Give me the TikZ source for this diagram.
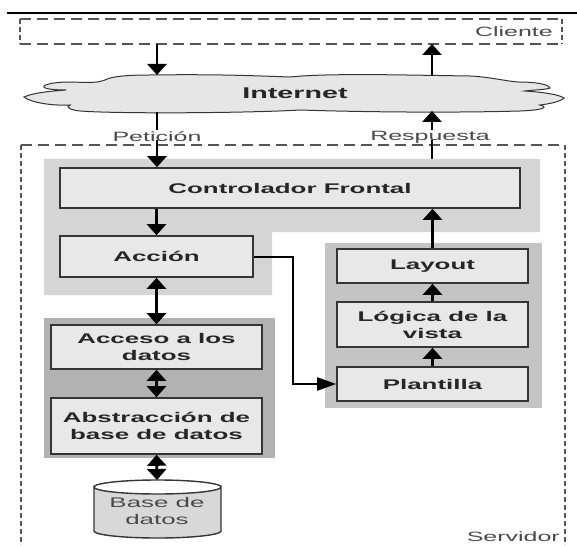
\documentclass[tikz,border=0pt]{standalone}
\usepackage{fontspec}
\setmainfont{Liberation Sans}[FakeStretch=1.85]
\usetikzlibrary{arrows.meta,calc}
\definecolor{boxfill}{HTML}{E8E8E8}
\definecolor{boxline}{HTML}{353535}
\definecolor{txt}{HTML}{262626}
\definecolor{lbl}{HTML}{4A4A4A}
\definecolor{bgtop}{HTML}{D5D5D5}
\definecolor{bgleft}{HTML}{B2B2B2}
\definecolor{bgright}{HTML}{C4C4C4}
\definecolor{cloudfill}{HTML}{E6E6E6}
\definecolor{dbfill}{HTML}{D8D8D8}
\definecolor{dashc}{HTML}{555555}
\newcommand\boxfont{\fontsize{14}{17}\selectfont}
\newcommand\lblfont{\fontsize{13.5}{16}\selectfont}
\tikzset{
  box/.style={draw=boxline, fill=boxfill, line width=1.6pt, inner sep=0pt,
    font=\boxfont\bfseries, text=txt, align=center},
  lab/.style={font=\lblfont, text=lbl, inner sep=0pt},
  conn/.style={line width=2.6pt, black},
  varr/.style={conn, -{Triangle[width=19pt,length=11pt]}},
  vdarr/.style={conn, {Triangle[width=19pt,length=11pt]}-{Triangle[width=19pt,length=11pt]}},
  harr/.style={conn, -{Triangle[width=13pt,length=19pt]}},
  hdash/.style={draw=dashc, line width=1.3pt, dash pattern=on 11pt off 6pt},
  vdash/.style={draw=dashc, line width=1.8pt, dash pattern=on 5pt off 3pt},
}
\begin{document}
\begin{tikzpicture}[x=1pt,y=-1pt]
\fill[white] (0,0) rectangle (577,545);
\useasboundingbox (0,0) rectangle (577,545);

% top rule
\draw[line width=1.6pt] (7,13) -- (577,13);

% Cliente box
\draw[hdash] (20,19) -- (562,19);
\draw[hdash] (20,44) -- (562,44);
\draw[vdash] (20,19) -- (20,44);
\draw[vdash] (562,19) -- (562,44);
\node[lab, anchor=east] (cliente) at (553,32) {Cliente};
\coordinate (clbot1) at (157,44);
\coordinate (clbot2) at (432,44);

% Servidor box
\draw[hdash] (21,145) -- (565,145);
\draw[vdash] (21,145) -- (21,545);
\draw[vdash] (565,145) -- (565,545);
\node[lab, anchor=east] (servidor) at (560,537) {Servidor};

% Cloud
\draw[draw=boxline, fill=cloudfill, line width=1pt]
 (24,97) .. controls (35,92) and (55,91) .. (66,90)
 .. controls (55,90) and (42,89) .. (44,86)
 .. controls (48,83) and (60,82) .. (70,82)
 .. controls (80,82) and (95,84) .. (105,80)
 .. controls (112,76) and (130,75) .. (150,75)
 .. controls (220,74) and (260,76) .. (290,77)
 .. controls (330,73) and (400,75) .. (470,76)
 .. controls (490,77) and (505,81) .. (518,82)
 .. controls (535,82) and (548,84) .. (550,88)
 .. controls (545,90) and (530,90) .. (525,91)
 .. controls (540,92) and (558,94) .. (564,98)
 .. controls (560,102) and (548,104) .. (540,105)
 .. controls (548,107) and (545,110) .. (520,111)
 .. controls (450,113) and (360,112) .. (300,110)
 .. controls (250,113) and (120,114) .. (80,111)
 .. controls (70,110) and (65,107) .. (70,105)
 .. controls (50,106) and (30,102) .. (24,97) -- cycle;
\node[font=\fontsize{15.5}{18}\selectfont\bfseries, text=txt] (inet) at (295,93) {Internet};
\coordinate (cltop1) at (157,75);
\coordinate (cltop2) at (432,76);
\coordinate (clb1) at (157,112);
\coordinate (clb2) at (432,111);

% labels
\node[lab] (petic) at (157,137) {Petición};
\node[lab] (resp) at (430,137) {Respuesta};
\coordinate (petbot) at (157,140);
\coordinate (respbot) at (432,140);

% gray backgrounds
\fill[bgtop] (44,159) -- (540,159) -- (540,232) -- (272,232) -- (272,295) -- (44,295) -- cycle;
\fill[bgleft] (44,318) rectangle (275,458);
\fill[bgright] (325,243) rectangle (542,408);
\coordinate (bgtopc) at (432,159);

% boxes
\node[box, minimum width=460pt, minimum height=40pt] (ctrl) at (290,188) {Controlador Frontal};
\node[box, minimum width=193pt, minimum height=41pt] (accion) at (156.5,256.5) {Acción};
\node[box, minimum width=191pt, minimum height=34pt] (layout) at (432.5,266) {Layout};
\node[box, minimum width=191pt, minimum height=45pt] (logica) at (432.5,324.5) {Lógica de la\\vista};
\node[box, minimum width=191pt, minimum height=34pt] (plant) at (432.5,384) {Plantilla};
\node[box, minimum width=211pt, minimum height=44pt] (acceso) at (156.5,347) {Acceso a los\\datos};
\node[box, minimum width=211pt, minimum height=56pt] (abstr) at (156.5,426) {Abstracción de\\base de datos};

% database cylinder
\draw[draw=boxline, fill=dbfill, line width=1.4pt]
  (94,487) -- (94,531) arc[start angle=180, end angle=360, x radius=63.5pt, y radius=7pt]
  -- (221,487) arc[start angle=0, end angle=-180, x radius=63.5pt, y radius=7pt] -- cycle;
\draw[draw=boxline, line width=1.4pt]
  (94,487) arc[start angle=180, end angle=0, x radius=63.5pt, y radius=7pt];
\node[lab, align=center, text=lbl, font=\fontsize{14}{16.5}\selectfont] (db) at (157,511) {Base de\\datos};
\coordinate (dbtop) at (157,480);

% connectors
\draw[varr] (clbot1) -- (cltop1);
\draw[varr] (cltop2) -- (clbot2);
\draw[conn] (clb1) -- (157,130);
\draw[varr] (432,130) -- (clb2);
\draw[varr] (petbot) -- (ctrl.north -| petbot);
\draw[conn] (bgtopc) -- (respbot);
\draw[varr] (ctrl.south -| accion) -- (accion.north);
\draw[varr] (layout.north) -- (ctrl.south -| layout);
\draw[varr] (logica.north) -- (layout.south);
\draw[varr] (plant.north) -- (logica.south);
\draw[vdarr] (accion.south) -- (acceso.north);
\draw[vdarr] (acceso.south) -- (abstr.north);
\draw[vdarr] (abstr.south) -- (dbtop);
\draw[conn, line width=2pt] (accion.east) -- (293,256.5) |- ($(plant.west)+(-19,0)$);
\draw[harr, line width=2pt] ($(plant.west)+(-20,0)$) -- (plant.west);
\end{tikzpicture}
\end{document}
